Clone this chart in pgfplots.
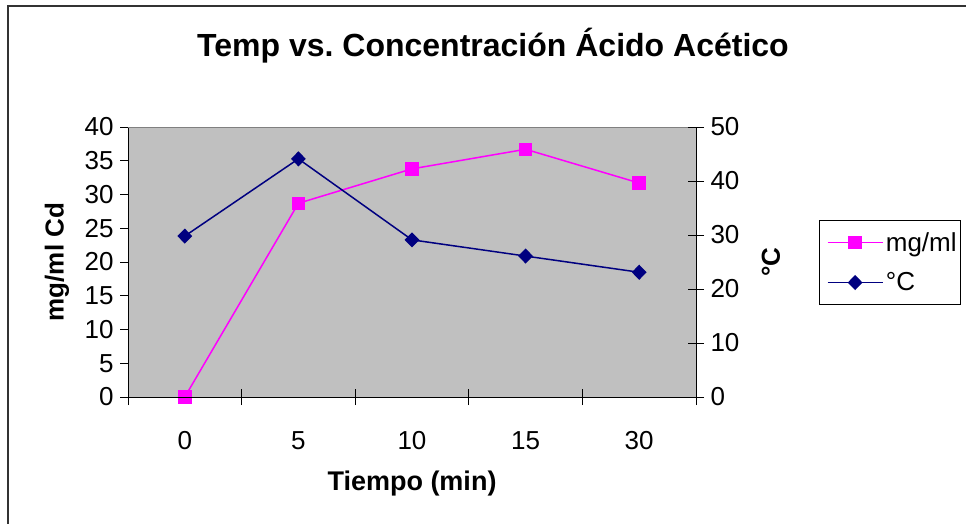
\documentclass[border=0pt]{standalone}
\usepackage{pgfplots}
\pgfplotsset{compat=1.18}
\usepackage{fontspec}
\setmainfont{Liberation Sans}
\frenchspacing
\definecolor{pa}{HTML}{C0C0C0}
\definecolor{mag}{HTML}{FF00FF}
\definecolor{nav}{HTML}{000080}
\begin{document}
\begin{tikzpicture}[x=1pt,y=1pt]
\path[use as bounding box] (0,0) rectangle (966,-524);
\draw[line width=2pt, color=black!80] (8,-540) -- (8,-6) -- (980,-6);
\pgfplotsset{common/.style={scale only axis, width=568pt, height=270pt,
  at={(128pt,-397pt)}, anchor=south west, xmin=-0.5, xmax=4.5,
  /pgf/number format/assume math mode=true,
  tick label style={font=\fontsize{26}{30}\selectfont},
  axis line style={black, line width=1pt},
  tick style={black, line width=1pt}}}
\begin{axis}[common, ymin=0, ymax=40, ytick={0,5,...,40},
  axis x line*=bottom, axis y line*=left,
  tick align=outside, major tick length=8pt,
  yticklabel style={xshift=-3pt},
  xtick={0,...,4}, xticklabels={0,5,10,15,30}, xtick style={draw=none},
  xticklabel style={yshift=-23pt},
  axis background/.style={fill=pa},
  title={\bfseries Temp vs. Concentración Ácido Acético},
  every axis title/.style={at={(axis description cs:0.6426,1.30)}, anchor=center, font=\fontsize{32}{36}\selectfont},
  xlabel={\bfseries Tiempo (min)},
  every axis x label/.style={at={(axis description cs:0.5,-0.322)}, anchor=center, font=\fontsize{27}{30}\selectfont},
  ylabel={\bfseries mg/ml Cd},
  every axis y label/.style={at={(axis description cs:-0.125,0.5)}, anchor=center, rotate=90, font=\fontsize{26}{30}\selectfont},
]
\addplot[mag, line width=1.5pt, mark=square*, mark size=6pt] coordinates {(0,0) (1,28.7) (2,33.8) (3,36.7) (4,31.7)};
\draw[gray, line width=1pt] (rel axis cs:0,1) -- (rel axis cs:1,1);
\end{axis}
\begin{axis}[common, ymin=0, ymax=50, ytick={0,10,...,50},
  axis x line*=bottom, axis y line*=right,
  tick align=center, major tick length=16pt,
  yticklabel style={xshift=3pt},
  xtick={-0.5,0.5,1.5,2.5,3.5,4.5}, xticklabels={},
  ylabel={\bfseries °C},
  every axis y label/.style={at={(axis description cs:1.132,0.5)}, anchor=center, rotate=90, font=\fontsize{26}{30}\selectfont},
  legend style={at={(axis description cs:1.2165,0.6556)}, anchor=north west, draw=black, line width=0.8pt, font=\fontsize{26}{30}\selectfont, inner xsep=1.5pt, inner ysep=10pt, row sep=16pt, nodes={inner xsep=2.5pt}},
  legend cell align=left,
  legend image code/.code={\path (0pt,0pt); \draw[mark repeat=2,mark phase=2,#1] plot coordinates {(6pt,0pt) (33.5pt,0pt) (61pt,0pt)};},
]
\addlegendimage{mag, line width=1.5pt, mark=square*, mark size=6pt}
\addlegendentry{mg/ml}
\addplot[nav, line width=1.5pt, mark=diamond*, mark size=6.5pt, mark options={xscale=1.3}] coordinates {(0,29.8) (1,44.1) (2,29.1) (3,26.1) (4,23.1)};
\addlegendentry{°C}
\end{axis}
\end{tikzpicture}
\end{document}
